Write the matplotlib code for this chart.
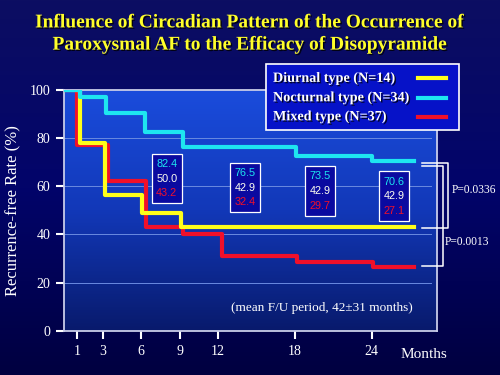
import numpy as np
import matplotlib
matplotlib.use("Agg")
import matplotlib.pyplot as plt
import matplotlib.patheffects as pe
from matplotlib.colors import LinearSegmentedColormap
from matplotlib.patches import Rectangle
from matplotlib.lines import Line2D

# Kaplan-Meier style step curves (months, recurrence-free %)
noct_t = [0, 1.2, 3.3, 6.3, 9.3, 18.1, 24.0, 27.3]
noct_y = [100, 97.1, 90.5, 82.4, 76.5, 72.5, 70.6, 70.6]
diur_t = [0, 1.2, 3.2, 6.1, 9.15, 27.3]
diur_y = [100, 78.0, 56.5, 49.0, 42.9, 42.9]
mixd_t = [0, 1.0, 3.4, 6.4, 9.3, 12.3, 18.2, 24.1, 27.3]
mixd_y = [100, 77.0, 62.2, 43.2, 40.0, 31.0, 28.5, 26.6, 26.6]

# survival table shown in boxes
box_months = [8.0, 14.1, 19.95, 25.75]
box_yc = [63.2, 59.5, 58.1, 55.9]
box_noct = ["82.4", "76.5", "73.5", "70.6"]
box_diur = ["50.0", "42.9", "42.9", "42.9"]
box_mixd = ["43.2", "32.4", "29.7", "27.1"]

xticks = [1, 3, 6, 9, 12, 18, 24]
yticks = [0, 20, 40, 60, 80, 100]

labels = ["Diurnal type (N=14)", "Nocturnal type (N=34)", "Mixed type (N=37)"]
YEL, CYA, RED = "#ffff1a", "#1ee6f0", "#f0102a"
SERIF = "Liberation Serif"

fig = plt.figure(figsize=(5, 3.75), dpi=100)

# figure background gradient
bg = fig.add_axes([0, 0, 1, 1], zorder=-10)
cm_bg = LinearSegmentedColormap.from_list("bg", ["#0c0e62", "#02046a", "#000040"])
bg.imshow(np.linspace(0, 1, 256)[:, None], aspect="auto", cmap=cm_bg,
          extent=[0, 1, 0, 1])
bg.set_axis_off()

W, H = 500, 375
def fx(px): return px / W
def fy(py): return 1 - py / H

ax = fig.add_axes([fx(64.2), fy(330.8), fx(437.3) - fx(64.2), fy(90) - fy(330.8)])
ax.set_xlim(0, 29.12)
ax.set_ylim(0, 100)
cm_ax = LinearSegmentedColormap.from_list("ax", ["#081a6c", "#1238b8", "#1a4cdc"])
ax.imshow(np.linspace(1, 0, 256)[:, None], aspect="auto", cmap=cm_ax,
          extent=[0, 29.12, 0, 100], zorder=0)

for g in [20, 40, 60, 80]:
    ax.plot([0, 28.6], [g, g], color="#6a8ae0", lw=0.7, zorder=1)

ax.step(mixd_t, mixd_y, where="post", color=RED, lw=3, zorder=3)
ax.step(diur_t, diur_y, where="post", color=YEL, lw=3, zorder=4)
ax.step(noct_t, noct_y, where="post", color=CYA, lw=3, zorder=5)

for sp in ax.spines.values():
    sp.set_color("#c8cce8")
    sp.set_linewidth(1.3)

ax.set_xticks(xticks)
ax.set_yticks(yticks)
ax.tick_params(colors="white", length=6, width=1.5, direction="out", pad=4)
ax.tick_params(axis="x", pad=4)
for lab in ax.get_xticklabels() + ax.get_yticklabels():
    lab.set_fontfamily(SERIF)
    lab.set_fontsize(10)
    lab.set_color("white")

ax.set_ylabel("Recurrence-free Rate (%)", family=SERIF, fontsize=12,
              color="white", labelpad=6)

# value boxes
hw, hh, dy = 1.17, 10.3, 6.1
for x, yc, a, b, c in zip(box_months, box_yc, box_noct, box_diur, box_mixd):
    ax.add_patch(Rectangle((x - hw, yc - hh), 2 * hw, 2 * hh, facecolor="#0a0aa0",
                           edgecolor="white", lw=0.9, zorder=6))
    for k, (s, col) in enumerate([(a, CYA), (b, "#fffff0"), (c, RED)]):
        ax.text(x, yc + dy * (1 - k), s, color=col, ha="center", va="center",
                family="Liberation Sans", fontsize=7.8, zorder=7)

ax.text(20.1, 9.4, "(mean F/U period, 42\u00b131 months)", family=SERIF,
        fontsize=9.5, color="white", ha="center", va="center", zorder=7)

# p-value brackets (figure pixel coords)
def fline(xs, ys, **kw):
    fig.add_artist(Line2D([fx(v) for v in xs], [fy(v) for v in ys],
                          transform=fig.transFigure, color="white", lw=1.1, **kw))
fline([421.7, 447.7, 447.7, 421.7], [163.3, 163.3, 228.3, 228.3])
fline([421.7, 443.3, 443.3, 421.7], [165.5, 165.5, 265.5, 265.5])
fig.text(fx(451.5), fy(190), "P=0.0336", family=SERIF, fontsize=8.3,
         color="white", va="center")
fig.text(fx(445), fy(241.7), "P=0.0013", family=SERIF, fontsize=8.3,
         color="white", va="center")

fig.text(fx(424), fy(355), "Months", family=SERIF, fontsize=11,
         color="white", ha="center", va="center")

# legend box
shadow = [pe.withSimplePatchShadow(offset=(1, -1), shadow_rgbFace="black", alpha=0.8)]
fig.add_artist(Rectangle((fx(266), fy(130)), fx(459) - fx(266), fy(64.3) - fy(130),
                         transform=fig.transFigure, facecolor="#0612c8",
                         edgecolor="white", lw=1.2, zorder=8))
for lab, col, yy in zip(labels, [YEL, CYA, RED], [78.3, 97.7, 116.7]):
    fig.text(fx(273), fy(yy), lab, family=SERIF, fontweight="bold", fontsize=10.2,
             color="white", va="center", zorder=9, path_effects=shadow)
    fig.add_artist(Line2D([fx(418.3), fx(446)], [fy(yy), fy(yy)],
                          transform=fig.transFigure, color=col, lw=3, zorder=9))

title = ("Influence of Circadian Pattern of the Occurrence of\n"
         "Paroxysmal AF to the Efficacy of Disopyramide")
fig.text(0.5, fy(34), title, family=SERIF, fontweight="bold", fontsize=14,
         color="#ffff2a", ha="center", va="center", linespacing=1.4,
         path_effects=shadow)

fig.savefig("out.png", dpi=100)
